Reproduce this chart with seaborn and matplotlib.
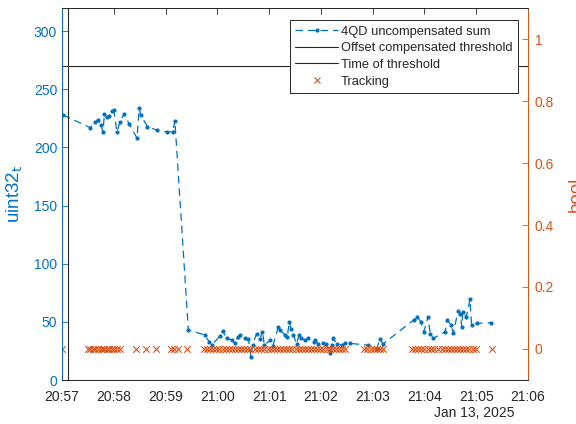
import numpy as np
import pandas as pd
import matplotlib
matplotlib.use("Agg")
import matplotlib.pyplot as plt
import matplotlib.dates as mdates
from matplotlib.lines import Line2D
import seaborn as sns

# ---- data (minutes after 20:57:00 on Jan 13, 2025) ----
sum_minutes = [0.02, 0.55, 0.64, 0.70, 0.76, 0.79, 0.82, 0.86, 0.91, 0.96, 1.00, 1.06,
               1.12, 1.20, 1.30, 1.45, 1.49, 1.52, 1.65, 1.83, 2.02, 2.14, 2.18, 2.44,
               2.76, 2.84, 2.89, 3.05, 3.10, 3.18, 3.28, 3.34, 3.40, 3.44, 3.53, 3.60,
               3.65, 3.68, 3.76, 3.82, 3.87, 3.91, 4.02, 4.07, 4.18, 4.21, 4.31, 4.35,
               4.39, 4.42, 4.47, 4.53, 4.58, 4.62, 4.70, 4.76, 4.86, 4.89, 4.95, 5.05,
               5.10, 5.18, 5.21, 5.24, 5.31, 5.40, 5.47, 5.56, 5.91, 6.08, 6.14, 6.20,
               6.79, 6.86, 6.93, 6.99, 7.07, 7.11, 7.17, 7.40, 7.44, 7.51, 7.56, 7.65,
               7.69, 7.72, 7.74, 7.81, 7.88, 7.91, 8.01, 8.28]
sum_values = [228, 217, 222, 224, 219, 213, 229, 226, 227, 231, 232, 213.5,
              222, 229, 220, 208, 233.6, 228, 218, 215, 213.5, 213.5, 223, 43,
              38.7, 33, 30, 37.8, 42.4, 35.8, 34.4, 31.5, 37.2, 38.7, 36.5, 35,
              20, 30, 40, 35, 41.5, 30, 34.4, 29, 46, 43, 38.7, 37,
              50, 44, 38.7, 31, 38.7, 36, 34.4, 36, 33, 34.4, 31, 31.5,
              31, 23, 30, 35.8, 31, 30, 31.5, 31.5, 30, 27, 35, 31,
              51.6, 54.4, 50, 41.5, 54.4, 40, 35.8, 41.5, 51.6, 47.3, 40.7, 59.6,
              57, 45.8, 58.7, 54.4, 69.4, 47.3, 48.7, 49.3]

track_minutes = [0.00, 0.50, 0.55, 0.60, 0.64, 0.70, 0.76, 0.79, 0.82, 0.86, 0.91, 0.96,
                 1.00, 1.06, 1.12, 1.43, 1.62, 1.82, 2.10, 2.16, 2.24, 2.41,
                 2.74, 2.80, 2.86, 2.92, 2.98, 3.04, 3.10, 3.16, 3.22, 3.28, 3.34, 3.40,
                 3.46, 3.52, 3.58, 3.63, 3.73, 3.79, 3.85, 3.91, 3.97, 4.03, 4.09, 4.15,
                 4.21, 4.27, 4.33, 4.39, 4.45, 4.51, 4.57, 4.63, 4.69, 4.75, 4.81, 4.87,
                 4.93, 4.99, 5.05, 5.11, 5.17, 5.23, 5.29, 5.35, 5.41, 5.47, 5.83, 5.90,
                 5.96, 6.02, 6.08, 6.14, 6.20, 6.76, 6.82, 6.88, 6.94, 7.00, 7.06, 7.12,
                 7.18, 7.27, 7.33, 7.39, 7.45, 7.51, 7.57, 7.63, 7.69, 7.75, 7.81, 7.87,
                 7.93, 8.00, 8.30]
track_values = [0] * len(track_minutes)

threshold_value = 270
threshold_minute = 0.12

left_ticks = [0, 50, 100, 150, 200, 250, 300]
right_ticks = [0, 0.2, 0.4, 0.6, 0.8, 1]
right_tick_labels = ["0", "0.2", "0.4", "0.6", "0.8", "1"]

legend_labels = ["4QD uncompensated sum", "Offset compensated threshold",
                 "Time of threshold", "Tracking"]

# ---- build frames ----
t0 = pd.Timestamp("2025-01-13 20:57:00")
df_sum = pd.DataFrame({"time": t0 + pd.to_timedelta(sum_minutes, unit="min"),
                       "value": sum_values})
df_trk = pd.DataFrame({"time": t0 + pd.to_timedelta(track_minutes, unit="min"),
                       "value": track_values})

BLUE = "#0072BD"
ORANGE = "#D95319"
DARK = "#262626"

sns.set_style("white")
plt.rcParams["font.family"] = ["Liberation Sans", "DejaVu Sans"]
plt.rcParams["font.size"] = 10

fig = plt.figure(figsize=(5.76, 4.24), dpi=100)
ax = fig.add_axes([62 / 576, 1 - 380 / 424, 466 / 576, 372 / 424])
ax2 = ax.twinx()

sns.lineplot(data=df_sum, x="time", y="value", ax=ax, color=BLUE, estimator=None,
             sort=False, linewidth=0.9, marker="o", markersize=3, markeredgewidth=0,
             dashes=False)
for ln in ax.get_lines():
    ln.set_linestyle((0, (6, 4)))

ax.axhline(threshold_value, color=DARK, linewidth=0.8)
tthr = t0 + pd.Timedelta(minutes=threshold_minute)
ax.axvline(mdates.date2num(tthr), color=DARK, linewidth=0.8)

sns.scatterplot(data=df_trk, x="time", y="value", ax=ax2, color=ORANGE, marker="x",
                s=22, linewidth=0.8)

x1 = t0 + pd.Timedelta(minutes=9)
ax.set_xlim(mdates.date2num(t0), mdates.date2num(x1))
ax.set_ylim(0, 320)
ax2.set_ylim(-0.1, 1.1)

ax.xaxis.set_major_locator(mdates.MinuteLocator(interval=1))
ax.xaxis.set_major_formatter(mdates.DateFormatter("%H:%M"))

ax.set_yticks(left_ticks)
ax2.set_yticks(right_ticks)
ax2.set_yticklabels(right_tick_labels)

ax.set_xlabel("")
ax.set_ylabel("uint32$_\\mathrm{t}$", color=BLUE, fontsize=13.5, labelpad=6)
ax2.set_ylabel("bool", color=ORANGE, fontsize=13.5, labelpad=10)

ax.tick_params(axis="x", direction="in", length=4, width=0.6, colors=DARK,
               labelcolor=DARK, labelsize=10, top=True, pad=7)
ax.tick_params(axis="y", direction="in", length=4, width=0.6, colors=BLUE,
               labelcolor=BLUE, labelsize=10)
ax2.tick_params(axis="y", direction="in", length=4, width=0.6, colors=ORANGE,
                labelcolor=ORANGE, labelsize=10, pad=5)

for a in (ax, ax2):
    for sp in a.spines.values():
        sp.set_linewidth(0.7)
        sp.set_color(DARK)
    a.spines["left"].set_color(BLUE)
    a.spines["right"].set_color(ORANGE)

fig.text(474 / 576, 1 - 413 / 424, "Jan 13, 2025", ha="center", va="center",
         color=DARK, fontsize=10)

handles = [
    Line2D([], [], color=BLUE, linestyle=(0, (6, 4)), linewidth=0.9, marker="o",
           markersize=3, markeredgewidth=0),
    Line2D([], [], color=DARK, linewidth=0.8),
    Line2D([], [], color=DARK, linewidth=0.8),
    Line2D([], [], color=ORANGE, linestyle="none", marker="x", markersize=5,
           markeredgewidth=0.8),
]
for a in (ax, ax2):
    if a.get_legend() is not None:
        a.get_legend().remove()
leg = ax2.legend(handles, legend_labels, loc="upper right",
                 bbox_to_anchor=(518 / 576, 1 - 20 / 424),
                 bbox_transform=fig.transFigure, fancybox=False, framealpha=1,
                 edgecolor=DARK, fontsize=9.3, handlelength=3.3, handletextpad=0.2,
                 borderpad=0.45, labelspacing=0.35, borderaxespad=0)
leg.get_frame().set_linewidth(0.7)
for t in leg.get_texts():
    t.set_color(DARK)

fig.savefig("out.png", dpi=100)
